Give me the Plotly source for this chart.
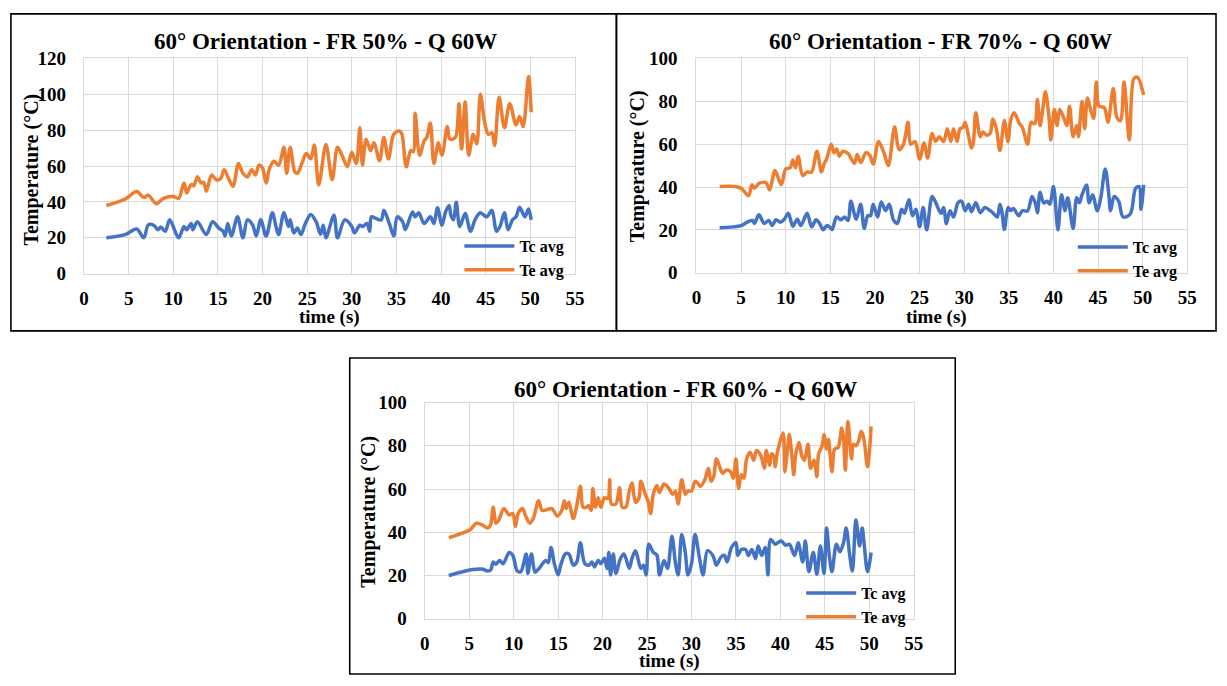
import plotly.graph_objects as go

FONT = "Liberation Serif"
W, H = 1227, 686
BLUE = "#4472C4"
ORANGE = "#ED7D31"

X_TICKS = [0, 5, 10, 15, 20, 25, 30, 35, 40, 45, 50, 55]
Y_TICKS_120 = [0, 20, 40, 60, 80, 100, 120]
Y_TICKS_100 = [0, 20, 40, 60, 80, 100]

TITLES = ["60° Orientation - FR 50% - Q 60W",
          "60° Orientation - FR 70% - Q 60W",
          "60° Orientation - FR 60% - Q 60W"]
SERIES_NAMES = ["Tc avg", "Te avg"]

# ---- FR 50% ----
FR50_TE_T = [2.5, 4.6, 5.9, 6.7, 7.2, 8.1, 8.9, 10.0, 10.6, 11.2, 11.5, 12.0, 12.3, 12.7, 13.1, 13.4, 13.7,
             14.3, 14.8, 15.3, 15.7, 16.2, 16.7, 17.3, 17.8, 18.3, 18.8, 19.2, 19.6, 20.0, 20.4, 20.8, 21.3,
             21.8, 22.4, 22.7, 23.1, 23.6, 23.9, 24.4, 24.9, 25.4, 25.8, 26.3, 27.1, 27.8, 28.4, 28.9, 29.5,
             30.0, 30.5, 30.9, 31.2, 31.6, 32.1, 32.5, 33.1, 33.6, 34.1, 34.7, 35.3, 35.6, 36.1, 36.6, 36.9,
             37.1, 37.6, 38.1, 38.4, 38.8, 39.2, 39.7, 40.1, 40.7, 41.0, 41.6, 42.0, 42.3, 42.7, 43.1, 43.6,
             44.0, 44.4, 44.9, 45.3, 45.7, 46.0, 46.5, 47.1, 47.7, 48.4, 48.8, 49.2, 49.8, 50.1]
FR50_TE = [38, 41.6, 45.8, 42.5, 43.8, 39, 42, 43, 42, 50.6, 45, 49.7, 49, 54, 50.6, 51, 46,
           55, 52.4, 53, 58, 53, 48.8, 61.4, 56, 54, 58, 55, 60.5, 59, 50.6, 59, 62.7,
           60.5, 70.5, 56, 70.5, 57, 56, 61.4, 67, 64, 71.7, 49.5, 72, 52.4, 70.5, 66, 59.6,
           67.7, 61.4, 81.3, 60.5, 75, 68.6, 73, 63, 75.9, 64, 77.7, 79.5, 78, 59.6, 68.6, 68,
           89.4, 66, 74, 75.9, 84, 61.4, 73, 66, 82, 75, 76, 94.8, 69.5, 95.7, 66, 77.7,
           72.3, 100, 84, 77.7, 78.5, 71.4, 98.4, 81.3, 94.8, 83, 87.6, 82, 110, 90]
FR50_TC_T = [2.5, 4.6, 5.9, 6.7, 7.2, 7.8, 8.3, 8.6, 9.1, 9.6, 10.6, 11.2, 11.5, 12.0, 12.2, 12.7, 13.7,
             14.4, 15.1, 15.6, 15.8, 16.1, 16.5, 17.2, 17.8, 18.3, 18.9, 19.3, 19.8, 20.4, 21.1, 21.5, 21.8,
             22.4, 22.9, 23.1, 23.5, 23.9, 24.3, 24.8, 25.4, 26.0, 26.5, 26.8, 27.1, 28.0, 28.4, 29.2, 30.0,
             30.3, 30.9, 31.2, 31.7, 32.0, 32.2, 32.7, 33.3, 33.6, 34.2, 34.7, 35.1, 35.7, 36.0, 36.8, 37.1,
             37.5, 38.1, 38.8, 39.2, 39.6, 40.1, 40.5, 40.9, 41.1, 41.4, 41.7, 42.1, 42.7, 43.3, 43.8, 44.4,
             45.1, 45.7, 46.2, 46.6, 47.1, 47.5, 48.0, 48.4, 48.8, 49.4, 49.8, 50.1]
FR50_TC = [20, 21.8, 24.9, 20, 27.2, 27, 24.5, 26, 23.6, 30, 20, 26.3, 24.5, 28, 24.5, 29, 21.8,
           29, 25.4, 23.6, 21, 28, 21, 31.7, 20, 30, 27, 21, 30, 21, 34, 26.3, 21.8,
           34, 26.3, 30, 22.7, 25.4, 21.8, 28, 33, 29, 22, 27, 20, 32.6, 20, 30, 26.3,
           22.7, 27, 26.3, 28, 23.6, 31.7, 30.8, 30, 35.3, 28, 21, 31.7, 29, 24.5, 34.4, 31.7,
           34, 28, 31.7, 28, 36.8, 27, 34.4, 38, 32.6, 30, 39.8, 26.3, 33.5, 23.6, 30, 34,
           31.7, 35.3, 23.6, 26.3, 34, 24.5, 30, 31.7, 37, 31.7, 36, 30]

# ---- FR 70% ----
FR70_TE_T = [2.6, 4.3, 5.0, 5.85, 6.2, 6.5, 7.0, 7.8, 8.2, 8.8, 9.5, 10.0, 10.5, 10.8, 11.1, 11.4, 11.9,
             12.4, 12.9, 13.5, 14.0, 14.3, 14.6, 15.1, 15.4, 15.7, 16.0, 16.4, 17.0, 17.7, 18.0, 18.4, 19.0,
             19.4, 19.8, 20.4, 21.0, 21.5, 22.2, 22.7, 23.2, 23.7, 24.0, 24.5, 25.0, 25.5, 25.9, 26.4, 26.8,
             27.2, 27.7, 28.1, 28.5, 28.8, 29.2, 29.5, 29.9, 30.1, 30.5, 30.8, 31.0, 31.3, 31.8, 32.1, 32.5,
             32.9, 33.2, 33.6, 34.0, 34.5, 34.9, 35.2, 35.6, 36.2, 36.5, 37.1, 37.5, 37.9, 38.2, 38.5, 38.8,
             39.1, 39.5, 39.7, 40.1, 40.4, 40.7, 41.2, 41.5, 41.8, 42.2, 42.6, 42.8, 43.2, 43.5, 43.8, 44.2,
             44.5, 44.8, 45.1, 45.7, 46.1, 46.7, 47.1, 47.5, 47.9, 48.5, 49.0, 49.4, 50.1]
FR70_TE = [40.2, 40.2, 39.4, 36, 41, 39.4, 41.7, 42, 38.6, 47.7, 41, 48.4, 49, 52.6, 49, 54.4, 45.4,
           47, 47, 56.7, 47, 50.7, 53.2, 60, 56, 57.7, 54.4, 56.7, 55.6, 51, 55.2, 51.4, 56,
           55, 50.7, 61.2, 56, 50, 68, 57.4, 60, 70.2, 60, 61.2, 53, 60.5, 53.5, 65, 61.2,
           63.5, 61.2, 67.2, 61.2, 67.2, 61.2, 67, 68, 70.2, 63.5, 58.2, 60, 74.7, 63.5, 65.7, 64.2,
           65, 71.7, 67.2, 57, 71, 61.2, 71, 74.7, 69.5, 68, 60, 70.2, 69.5, 80.8, 68.7, 76.2,
           84.5, 72.5, 62, 76.2, 68.7, 76.2, 71.7, 68.7, 77.7, 63.5, 68.7, 63.5, 80, 67.2, 81.5, 75.5,
           72, 89, 77.7, 77, 70.2, 86, 72.5, 71, 89, 62, 90.5, 91.3, 83]
FR70_TC_T = [2.6, 5.0, 5.7, 6.3, 6.5, 7.0, 7.6, 8.1, 8.5, 8.9, 9.4, 9.8, 10.3, 10.8, 11.3, 11.7, 12.4,
             12.9, 13.4, 13.8, 14.2, 14.6, 14.9, 15.2, 15.7, 16.2, 16.6, 17.0, 17.3, 17.9, 18.4, 18.8, 19.2,
             19.5, 19.8, 20.3, 20.7, 21.2, 21.6, 22.1, 22.5, 23.0, 23.3, 23.8, 24.2, 24.6, 25.0, 25.4, 25.8,
             26.4, 26.8, 27.4, 27.7, 28.0, 28.4, 28.8, 29.3, 29.7, 30.1, 30.5, 30.8, 31.3, 31.8, 32.3, 32.9,
             33.2, 33.7, 34.0, 34.2, 34.5, 34.9, 35.2, 35.5, 36.1, 36.5, 37.1, 37.6, 38.0, 38.2, 38.5, 38.9,
             39.3, 39.6, 40.0, 40.5, 40.9, 41.3, 41.6, 42.2, 42.6, 42.9, 43.2, 43.7, 44.0, 44.4, 44.9, 45.3,
             45.8, 46.2, 46.4, 46.8, 47.3, 47.8, 48.6, 49.2, 49.6, 49.8, 50.1]
FR70_TC = [21, 22, 23.6, 24.4, 23, 27, 23, 24.4, 22, 24.7, 23.6, 24.7, 27.7, 21.7, 25, 22, 27.7,
           21.4, 24.7, 23, 20, 22, 21.4, 20.2, 26, 24.7, 26, 24.4, 33.4, 25, 32, 20.6, 26.6,
           26.6, 32, 26, 33, 29, 32, 24.4, 23, 29.6, 27.7, 34.1, 26.6, 29.6, 21.4, 30.4, 20,
           35.6, 32.8, 27.7, 30.4, 22.9, 28.9, 26, 32.6, 33.4, 28.9, 32, 28.5, 32.6, 28, 30.4, 29,
           28, 26, 32, 29, 20.2, 30.4, 29, 30, 26.6, 28.9, 28.9, 35.6, 32, 28, 37.6, 32.6,
           33.4, 32, 40.2, 20, 36.4, 28.9, 35, 20.6, 35, 32.6, 36.4, 41, 32.6, 36.4, 28.9, 35,
           48.4, 36.4, 28.9, 35.6, 33.4, 26, 27.4, 39.4, 40.2, 29.6, 41]

# ---- FR 60% ----
FR60_TE_T = [2.7, 4.3, 5.1, 5.8, 6.4, 7.1, 7.4, 7.7, 8.0, 8.3, 8.9, 9.5, 9.9, 10.2, 10.5, 11.0, 11.3,
             11.8, 12.2, 12.8, 13.2, 13.7, 14.3, 14.9, 15.4, 15.7, 15.9, 16.2, 16.7, 17.1, 17.5, 17.8, 18.2,
             18.4, 18.7, 18.9, 19.2, 19.5, 19.8, 20.2, 20.6, 20.8, 21.0, 21.5, 21.9, 22.2, 22.6, 23.0, 23.3,
             23.7, 24.1, 24.3, 24.8, 25.1, 25.4, 25.7, 26.1, 26.4, 26.9, 27.4, 27.9, 28.2, 28.5, 28.9, 29.3,
             29.6, 30.0, 30.4, 30.7, 31.0, 31.5, 31.9, 32.2, 32.5, 32.8, 33.3, 33.5, 33.9, 34.4, 34.7, 35.0,
             35.3, 35.6, 35.9, 36.2, 36.6, 37.0, 37.3, 37.8, 38.2, 38.4, 38.8, 39.0, 39.3, 39.4, 39.7, 40.3,
             40.5, 40.8, 41.0, 41.3, 41.5, 41.7, 42.1, 42.4, 42.7, 43.1, 43.4, 43.8, 44.1, 44.3, 44.7, 44.9,
             45.2, 45.4, 45.8, 46.1, 46.5, 46.9, 47.1, 47.3, 47.6, 48.0, 48.2, 48.5, 48.8, 49.1, 49.4, 49.8,
             50.2]
FR60_TE = [37.5, 39.7, 41.2, 44.2, 43.5, 42, 43.5, 51.6, 44.2, 45.5, 51, 48, 48.7, 42.7, 48.7, 51, 48,
           44.2, 46.4, 54.6, 50.1, 50.4, 51, 47.5, 50.1, 54.6, 51, 53.9, 46.4, 52.4, 61.3, 51.6, 51.6,
           52.4, 50.1, 60.3, 51.6, 56, 51.6, 56, 55.7, 64.3, 53.1, 53.1, 60.6, 51.6, 51.6, 59.1, 62.8,
           53.9, 56, 63.6, 57.6, 54.6, 48.7, 57.6, 61.7, 58.4, 62.4, 60.6, 57.6, 59, 53.1, 64.3, 57.6,
           59.1, 59.1, 63.6, 62.8, 61.3, 64.3, 69.6, 63.6, 65.8, 74, 68.8, 67.3, 68.8, 68, 65, 74,
           60.3, 66.6, 65, 74, 77, 73.3, 77.8, 75.5, 69.6, 77.8, 71, 76.3, 74.8, 70.3, 77.8, 86,
           68, 78.5, 85.2, 74.8, 66.6, 75.5, 81.5, 75.5, 73.3, 80.7, 69.6, 73.3, 65.8, 76.3, 80, 85.2,
           78.5, 83, 68, 78.5, 79.3, 88.2, 83.7, 68.8, 91.2, 74, 80.7, 80, 82.2, 86.7, 83, 70.3,
           89]
FR60_TC_T = [2.7, 4.0, 5.4, 6.4, 7.1, 7.4, 7.7, 8.0, 8.4, 8.8, 9.5, 9.9, 10.4, 10.8, 11.4, 11.6, 12.0,
             12.4, 12.8, 13.6, 13.9, 14.2, 14.6, 15.0, 15.3, 15.8, 16.2, 16.7, 17.1, 17.5, 18.0, 18.5, 18.8,
             19.1, 19.5, 19.8, 20.2, 20.5, 20.7, 20.9, 21.2, 21.5, 22.0, 22.4, 23.0, 23.3, 23.7, 24.3, 24.6,
             24.9, 25.2, 25.7, 26.1, 26.4, 26.9, 27.3, 27.8, 28.2, 28.5, 28.9, 29.3, 29.6, 30.0, 30.4, 30.9,
             31.3, 31.8, 32.4, 32.8, 33.3, 33.7, 34.0, 34.5, 35.0, 35.2, 35.6, 36.1, 36.4, 36.8, 37.2, 37.5,
             37.9, 38.3, 38.6, 38.9, 39.4, 39.7, 40.1, 40.6, 41.0, 41.6, 42.0, 42.5, 42.8, 43.2, 43.7, 44.1,
             44.5, 44.9, 45.2, 45.5, 45.8, 46.3, 46.7, 47.1, 47.4, 47.8, 48.1, 48.5, 48.9, 49.2, 49.4, 49.8,
             50.2]
FR60_TC = [20, 21.5, 22.8, 23, 22.1, 22.5, 26.3, 25.2, 27, 25.5, 30.7, 29.3, 22.1, 21.8, 30, 21, 30,
           21.5, 23, 27, 26, 33, 25, 20.3, 25, 30, 30, 24.8, 26.3, 35.2, 25.5, 24.8, 26.3,
           24, 27, 25.5, 28, 23.3, 30.7, 20.3, 30, 21, 27.8, 30, 23.3, 27.8, 31.5, 23.3, 24.8,
           20.3, 34.5, 30.7, 29.5, 20.3, 27, 23.3, 38.2, 25.5, 20.3, 39, 30.7, 20.3, 25.5, 39, 28,
           20.3, 31.5, 29.3, 24.8, 28.5, 29.3, 26.3, 33, 35.2, 29.3, 32, 32, 29.3, 32, 27.8, 33.7,
           29.3, 33, 20.3, 36.7, 34.5, 35.2, 36, 34, 34.5, 29.3, 35.2, 26.3, 36, 21.8, 30.7, 20.6,
           33.7, 21, 42, 29.3, 21.8, 34.5, 31, 35.2, 42, 29.3, 22.1, 45.7, 33.7, 42, 35.5, 21.8,
           30.7]


def px_x(p):
    return p / W


def px_y(p):
    return 1 - p / H


PANELS = [
    dict(title=TITLES[0], sfx="", xd=(80, 577), yd=(50, 272), ymax=120, yt=Y_TICKS_120,
         tc_t=FR50_TC_T, tc=FR50_TC, te_t=FR50_TE_T, te=FR50_TE, leg="legend",
         title_c=(324, 33), xt_c=(329, 317), yt_c=(27, 165), leg_pos=(460, 226), ystand=13),
    dict(title=TITLES[1], sfx="2", xd=(700, 1197), yd=(50, 271), ymax=100, yt=Y_TICKS_100,
         tc_t=FR70_TC_T, tc=FR70_TC, te_t=FR70_TE_T, te=FR70_TE, leg="legend2",
         title_c=(947, 33), xt_c=(943, 317), yt_c=(640, 161), leg_pos=(1081, 227), ystand=14),
    dict(title=TITLES[2], sfx="3", xd=(425, 920), yd=(405, 628), ymax=100, yt=Y_TICKS_100,
         tc_t=FR60_TC_T, tc=FR60_TC, te_t=FR60_TE_T, te=FR60_TE, leg="legend3",
         title_c=(689, 391), xt_c=(673, 672), yt_c=(368, 518), leg_pos=(806, 584), ystand=13),
]

fig = go.Figure()
layout = dict(width=W, height=H, margin=dict(l=0, r=0, t=0, b=0),
              paper_bgcolor="white", plot_bgcolor="white", showlegend=True)
annotations = []
shapes = []

tick_font = dict(family=FONT, size=19, color="black", weight="bold")

for p in PANELS:
    xa = "x" + p["sfx"]
    ya = "y" + p["sfx"]
    for name, tt, vv, col in [(SERIES_NAMES[0], p["tc_t"], p["tc"], BLUE),
                              (SERIES_NAMES[1], p["te_t"], p["te"], ORANGE)]:
        fig.add_trace(go.Scatter(x=tt, y=vv, mode="lines", name=name,
                                 line=dict(color=col, width=3.5, shape="spline", smoothing=0.9),
                                 xaxis=xa, yaxis=ya, legend=p["leg"], hoverinfo="skip"))
    layout["xaxis" + p["sfx"]] = dict(
        domain=[px_x(p["xd"][0]), px_x(p["xd"][1])], anchor=ya, range=[0, 55],
        tickmode="array", tickvals=X_TICKS, ticktext=[str(v) for v in X_TICKS],
        showgrid=True, gridcolor="#d9d9d9", gridwidth=1.3, zeroline=False,
        showline=True, linecolor="#d9d9d9", linewidth=1.3, mirror=True,
        ticks="outside", ticklen=7, tickcolor="rgba(0,0,0,0)", tickfont=tick_font)
    layout["yaxis" + p["sfx"]] = dict(
        domain=[px_y(p["yd"][1]), px_y(p["yd"][0])], anchor=xa, range=[0, p["ymax"]],
        tickmode="array", tickvals=p["yt"], ticktext=[str(v) for v in p["yt"]],
        showgrid=True, gridcolor="#d9d9d9", gridwidth=1.3, zeroline=False,
        showline=True, linecolor="#d9d9d9", linewidth=1.3, mirror=True,
        ticks="outside", ticklen=p["ystand"], tickcolor="rgba(0,0,0,0)", tickfont=tick_font)
    layout[p["leg"]] = dict(
        x=px_x(p["leg_pos"][0]), y=px_y(p["leg_pos"][1]), xanchor="left", yanchor="top",
        bgcolor="rgba(0,0,0,0)", borderwidth=0, itemwidth=50,
        font=dict(family=FONT, size=16, color="black", weight="bold"))
    annotations.append(dict(text="<b>" + p["title"] + "</b>", xref="paper", yref="paper",
                            x=px_x(p["title_c"][0]), y=px_y(p["title_c"][1]),
                            xanchor="center", yanchor="middle", showarrow=False,
                            font=dict(family=FONT, size=23, color="black")))
    annotations.append(dict(text="<b>time (s)</b>", xref="paper", yref="paper",
                            x=px_x(p["xt_c"][0]), y=px_y(p["xt_c"][1]),
                            xanchor="center", yanchor="middle", showarrow=False,
                            font=dict(family=FONT, size=19, color="black")))
    annotations.append(dict(text="<b>Temperature (°C)</b>", xref="paper", yref="paper",
                            x=px_x(p["yt_c"][0]), y=px_y(p["yt_c"][1]), textangle=-90,
                            xanchor="center", yanchor="middle", showarrow=False,
                            font=dict(family=FONT, size=20, color="black")))

# chart frames
for (x0, y0, x1, y1) in [(6, 4, 619, 331), (619, 4, 1226, 331), (349, 359, 962, 685)]:
    shapes.append(dict(type="rect", xref="paper", yref="paper",
                       x0=px_x(x0), x1=px_x(x1), y0=px_y(y1), y1=px_y(y0),
                       line=dict(color="black", width=1.6), fillcolor="rgba(0,0,0,0)", layer="above"))

layout["annotations"] = annotations
layout["shapes"] = shapes
fig.update_layout(**layout)

# pin the figure to the page's top-left corner (no default body margin)
PIN_JS = ("}); (function(){var s=document.createElement('style');"
          "s.textContent='html,body{margin:0!important;padding:0!important;overflow:hidden;}"
          ".plotly-graph-div{position:fixed!important;left:0;top:0;}';"
          "document.head.appendChild(s);})(); Promise.resolve().then(function(){")
fig.write_html("out.html", config={"displayModeBar": False}, post_script=PIN_JS)
